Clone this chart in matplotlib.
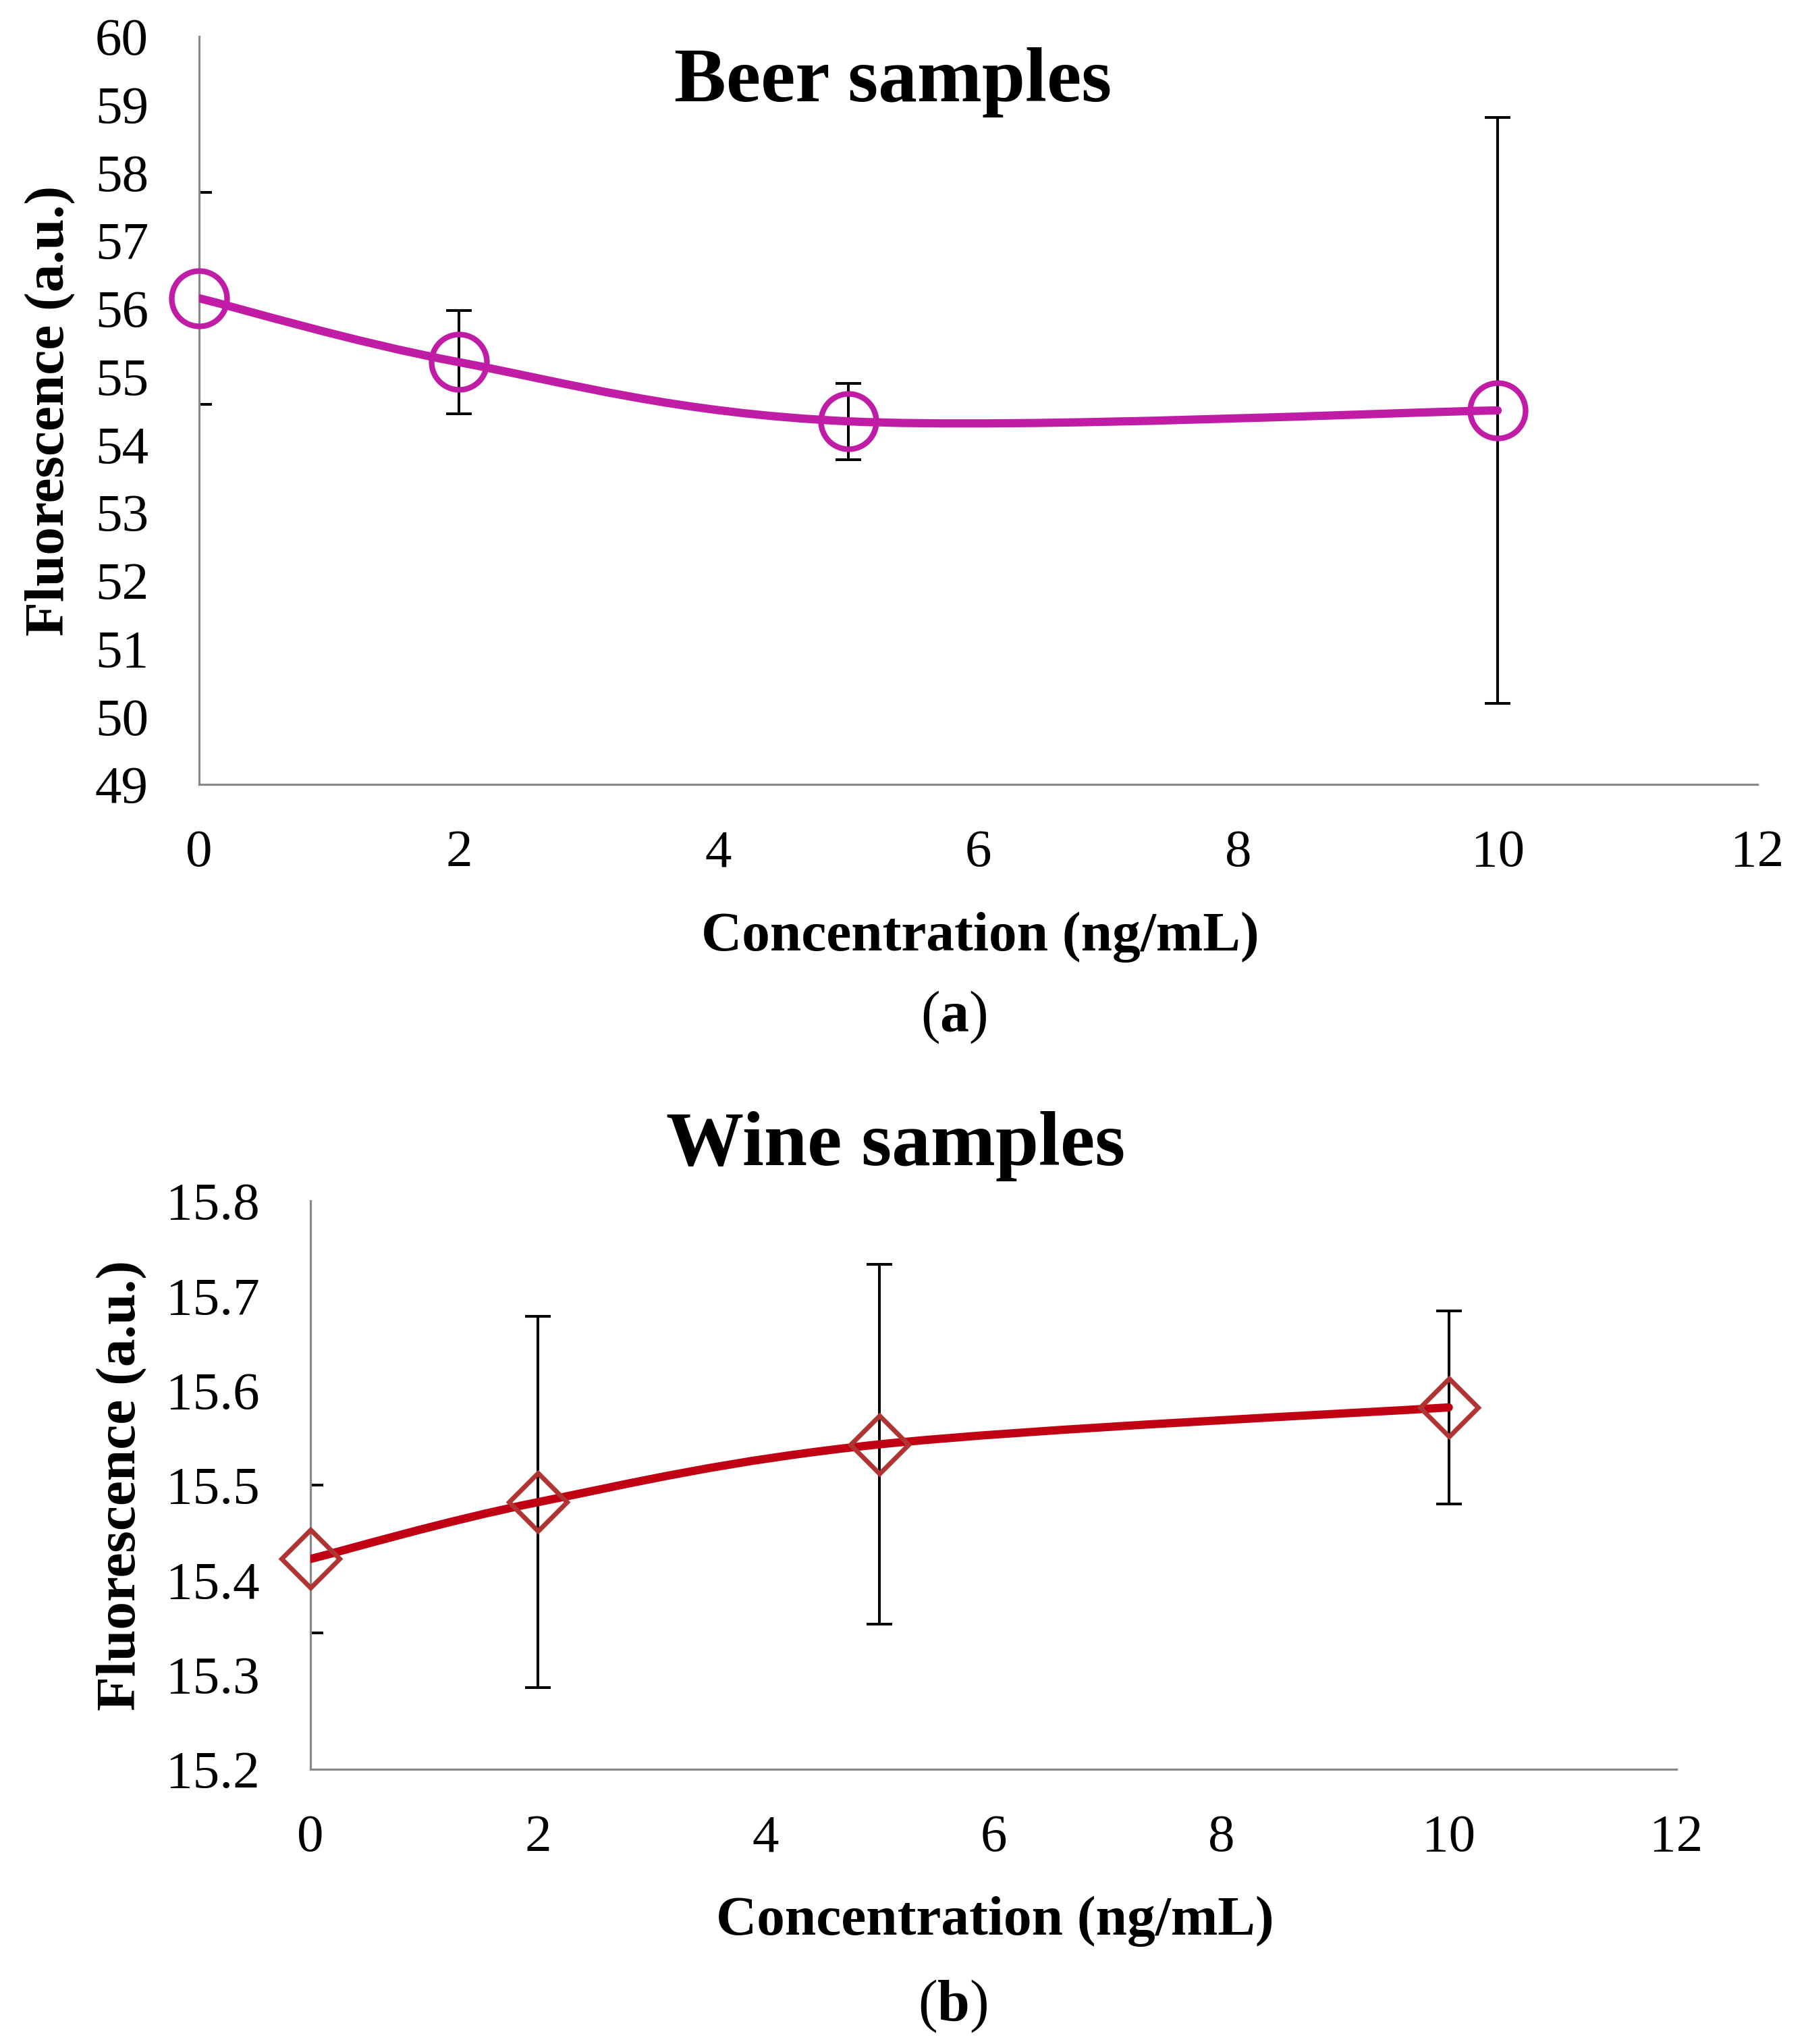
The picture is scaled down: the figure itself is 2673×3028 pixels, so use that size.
import numpy as np
import matplotlib
matplotlib.use("Agg")
import matplotlib.pyplot as plt
from matplotlib.path import Path
from matplotlib.patches import PathPatch

plt.rcParams["font.family"] = ["Liberation Serif", "DejaVu Serif"]
plt.rcParams["mathtext.fontset"] = "custom"
plt.rcParams["mathtext.rm"] = "Liberation Serif"
plt.rcParams["mathtext.bf"] = "Liberation Serif:bold"

# ---- data ----
conc = [0, 2, 5, 10]

beer_mean = [56.15, 55.21, 54.34, 54.50]
beer_err = [1.56, 0.76, 0.56, 4.31]

wine_mean = [15.422, 15.482, 15.543, 15.582]
wine_err = [0.078, 0.196, 0.190, 0.102]

beer_yticks = list(range(49, 61))
wine_yticks = [15.2, 15.3, 15.4, 15.5, 15.6, 15.7, 15.8]
xticks = [0, 2, 4, 6, 8, 10, 12]

W, H = 2673, 3028
BEER_COL = "#C01CA6"
WINE_LINE = "#C00012"
WINE_MARK = "#B03434"
AXIS_COL = "#898989"


def smooth_path(xs, ys):
    """Bezier curve through the points, like a spreadsheet 'smoothed line'."""
    pts = np.column_stack([xs, ys]).astype(float)
    n = len(pts)
    verts = [pts[0]]
    codes = [Path.MOVETO]
    for i in range(n - 1):
        p0 = pts[i - 1] if i > 0 else pts[i]
        p1 = pts[i]
        p2 = pts[i + 1]
        p3 = pts[i + 2] if i + 2 < n else pts[i + 1]
        c1 = p1 + (p2 - p0) / 6.0
        c2 = p2 - (p3 - p1) / 6.0
        verts += [c1, c2, p2]
        codes += [Path.CURVE4] * 3
    return Path(verts, codes)


def fx(px):
    return px / W


def fy(py):
    return 1 - py / H


def style_axes(ax, yticks, fmt):
    for s in ("top", "right"):
        ax.spines[s].set_visible(False)
    for s in ("left", "bottom"):
        ax.spines[s].set_color(AXIS_COL)
        ax.spines[s].set_linewidth(2.3)
    ax.set_xlim(0, 12)
    ax.set_ylim(yticks[0], yticks[-1])
    ax.set_xticks(xticks)
    ax.set_yticks(yticks)
    ax.set_yticklabels([fmt.format(v) for v in yticks])
    ax.tick_params(axis="both", length=0, labelsize=57)
    ax.tick_params(axis="y", pad=54)
    ax.tick_params(axis="x", pad=48)


def draw_panel(ax, y, err, line_col, mark_col, marker, ms, mew):
    ax.errorbar(conc, y, yerr=err, fmt="none", ecolor="black",
                elinewidth=2.9, capsize=14, capthick=2.9, zorder=2)
    ax.add_patch(PathPatch(smooth_path(conc, y), fill=False,
                           edgecolor=line_col, lw=8.8, capstyle="round",
                           joinstyle="round", zorder=3))
    ax.plot(conc, y, ls="none", marker=marker, ms=ms, mew=mew,
            mfc="none", mec=mark_col, clip_on=False, zorder=4)


fig = plt.figure(figsize=(W / 100, H / 100), dpi=100)

# (a) beer
ax1 = fig.add_axes([fx(295), fy(1162), fx(2604 - 295), (1162 - 54) / H])
style_axes(ax1, beer_yticks, "{:d}")
draw_panel(ax1, beer_mean, beer_err, BEER_COL, BEER_COL, "o", 59, 6)

fig.text(fx(1323), fy(150), "Beer samples", ha="center", va="baseline",
         fontsize=83, fontweight="bold")
fig.text(fx(1452), fy(1408), "Concentration (ng/mL)", ha="center",
         va="baseline", fontsize=60, fontweight="bold")
fig.text(fx(75), fy(608), "Fluorescence (a.u.)", ha="center", va="center",
         rotation=90, fontsize=60, fontweight="bold")
fig.text(fx(1413), fy(1528), r"($\mathbf{a}$)", ha="center", va="baseline",
         fontsize=62)

# (b) wine
ax2 = fig.add_axes([fx(460), fy(2621), fx(2484 - 460), (2621 - 1779) / H])
style_axes(ax2, wine_yticks, "{:.1f}")
draw_panel(ax2, wine_mean, wine_err, WINE_LINE, WINE_MARK, "D", 44, 5)

fig.text(fx(1327), fy(1726), "Wine samples", ha="center", va="baseline",
         fontsize=83, fontweight="bold")
fig.text(fx(1474), fy(2866), "Concentration (ng/mL)", ha="center",
         va="baseline", fontsize=60, fontweight="bold")
fig.text(fx(181), fy(2200), "Fluorescence (a.u.)", ha="center", va="center",
         rotation=90, fontsize=60, fontweight="bold")
fig.text(fx(1412), fy(2993), r"($\mathbf{b}$)", ha="center", va="baseline",
         fontsize=62)

fig.savefig("out.png", dpi=100)
plt.close(fig)
